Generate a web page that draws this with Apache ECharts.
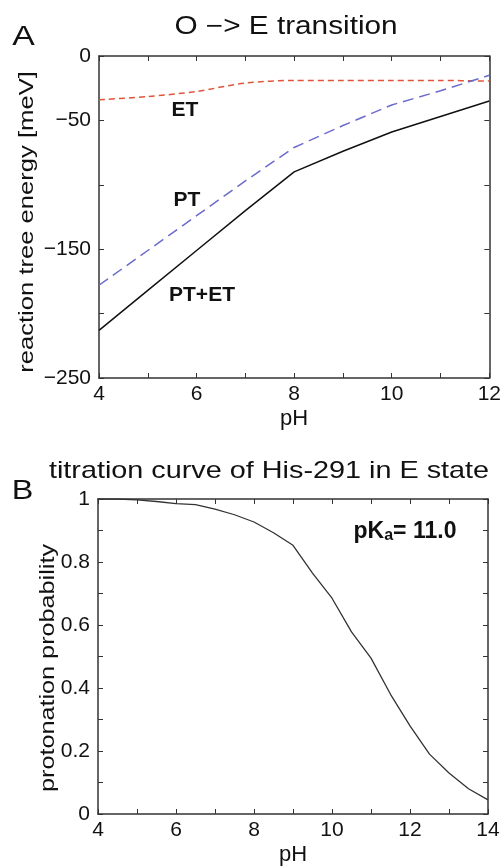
<!DOCTYPE html>
<html>
<head>
<meta charset="utf-8">
<script src="https://cdn.jsdelivr.net/npm/echarts@6/dist/echarts.min.js"></script>
<style>
html,body{margin:0;padding:0;background:#fff;}
#c{width:504px;height:867px;}
</style>
</head>
<body>
<div id="c"></div>
<script>
// Panel A data
const phA = [4, 5, 6, 7, 8, 9, 10, 11, 12];
const etA = [-34, -31.5, -27.5, -21, -19, -19, -19, -19, -19.5];
const ptA = [-178, -151, -124, -97, -71, -54, -38, -27, -15];
const ptetA = [-213, -182, -151, -120, -90, -74, -59, -47, -35];
// Panel B data
const phB = [4, 4.5, 5, 5.5, 6, 6.5, 7, 7.5, 8, 8.5, 9, 9.5, 10, 10.5, 11, 11.5, 12, 12.5, 13, 13.5, 14];
const probB = [1.0, 1.0, 0.997, 0.992, 0.985, 0.982, 0.968, 0.95, 0.927, 0.893, 0.853, 0.765, 0.685, 0.578, 0.495, 0.38, 0.28, 0.19, 0.13, 0.08, 0.045];
// Labels
const titleA = 'O \u2212> E transition';
const titleB = 'titration curve of His-291 in E state';
const yNameA = 'reaction tree energy [meV]';
const yNameB = 'protonation probability';
const xName = 'pH';
const seriesLabels = ['ET', 'PT', 'PT+ET'];
const panelLetters = ['A', 'B'];

const FONT = '"Liberation Sans", Arial, Helvetica, sans-serif';
const AX = '#333';
const TXT = '#111';

const zip = (xs, ys) => xs.map((x, i) => [x, ys[i]]);
const fmtNum = v => v < 0 ? '\u2212' + Math.abs(v) : String(v);

function boxAxis(gridIndex, pos, opts, showLabels) {
  return Object.assign({
    type: 'value', gridIndex, position: pos,
    axisLine: {show: true, onZero: false, lineStyle: {color: AX, width: 1.5}},
    axisTick: {show: true, inside: true, length: 5, lineStyle: {color: AX, width: 1}},
    splitLine: {show: false},
    axisLabel: {show: showLabels, color: TXT, fontSize: 21, fontFamily: FONT}
  }, opts);
}
function txt(text, x, y, size, opts) {
  return Object.assign({
    type: 'text', x, y,
    style: {text, font: size + 'px ' + FONT, fill: TXT, align: 'center', verticalAlign: 'middle'}
  }, opts || {});
}

const chart = echarts.init(document.getElementById('c'), null, {renderer: 'canvas'});
chart.setOption({
  animation: false,
  backgroundColor: '#fff',
  grid: [
    {left: 99, right: 14, top: 56, height: 322},
    {left: 98, right: 16, top: 499, height: 324}
  ],
  xAxis: [
    boxAxis(0, 'bottom', {min: 4, max: 12, interval: 1, name: xName, nameLocation: 'middle', nameGap: 30,
      nameTextStyle: {fontFamily: FONT, fontSize: 22, color: TXT},
      axisLabel: {show: true, color: TXT, fontSize: 21, fontFamily: FONT, margin: 6,
        formatter: v => (v % 2 === 0 ? String(v) : '')}}, true),
    boxAxis(0, 'top', {min: 4, max: 12, interval: 1}, false),
    boxAxis(1, 'bottom', {min: 4, max: 14, interval: 1, name: xName, nameLocation: 'middle', nameGap: 30,
      nameTextStyle: {fontFamily: FONT, fontSize: 22, color: TXT},
      axisLabel: {show: true, color: TXT, fontSize: 21, fontFamily: FONT, margin: 6,
        formatter: v => (v % 2 === 0 ? String(v) : '')}}, true),
    boxAxis(1, 'top', {min: 4, max: 14, interval: 1}, false)
  ],
  yAxis: [
    boxAxis(0, 'left', {min: -250, max: 0, interval: 50,
      axisLabel: {show: true, color: TXT, fontSize: 21, fontFamily: FONT, margin: 8,
        formatter: v => (v === -100 || v === -200 ? '' : fmtNum(v))}}, true),
    boxAxis(0, 'right', {min: -250, max: 0, interval: 50}, false),
    boxAxis(1, 'left', {min: 0, max: 1, interval: 0.1,
      axisLabel: {show: true, color: TXT, fontSize: 21, fontFamily: FONT, margin: 8,
        formatter: v => (Math.round(v * 10) % 2 === 0 ? String(Math.round(v * 10) / 10) : '')}}, true),
    boxAxis(1, 'right', {min: 0, max: 1, interval: 0.1}, false)
  ],
  series: [
    {type: 'line', xAxisIndex: 0, yAxisIndex: 0, data: zip(phA, etA), symbol: 'none', smooth: 0.3,
     lineStyle: {color: '#e0553a', width: 1.5, type: [6, 4]}},
    {type: 'line', xAxisIndex: 0, yAxisIndex: 0, data: zip(phA, ptA), symbol: 'none',
     lineStyle: {color: '#6b6bcc', width: 1.5, type: [11, 6]}},
    {type: 'line', xAxisIndex: 0, yAxisIndex: 0, data: zip(phA, ptetA), symbol: 'none',
     lineStyle: {color: '#111', width: 1.5}},
    {type: 'line', xAxisIndex: 2, yAxisIndex: 2, data: zip(phB, probB), symbol: 'none',
     lineStyle: {color: '#333', width: 1.3}}
  ],
  graphic: [
    txt(titleA, 286, 27, 25, {scaleX: 1.19}),
    txt(titleB, 269, 471, 24, {scaleX: 1.2}),
    txt(panelLetters[0], 23.5, 38, 27, {scaleX: 1.25}),
    txt(panelLetters[1], 22.5, 492, 27, {scaleX: 1.2}),
    txt(yNameA, 27, 222, 20, {rotation: Math.PI / 2, scaleX: 1.28}),
    txt(yNameB, 48, 668, 20, {rotation: Math.PI / 2, scaleX: 1.26}),
    {type: 'text', x: 185, y: 110, style: {text: seriesLabels[0], font: 'bold 21px ' + FONT, fill: TXT, align: 'center', verticalAlign: 'middle'}},
    {type: 'text', x: 187, y: 200, style: {text: seriesLabels[1], font: 'bold 21px ' + FONT, fill: TXT, align: 'center', verticalAlign: 'middle'}},
    {type: 'text', x: 202, y: 295, style: {text: seriesLabels[2], font: 'bold 21px ' + FONT, fill: TXT, align: 'center', verticalAlign: 'middle'}},
    {type: 'text', x: 405, y: 532, style: {
      text: '{m|pK}{s|a}{m|= 11.0}', align: 'center', verticalAlign: 'middle',
      rich: {
        m: {font: 'bold 23px ' + FONT, fill: TXT, verticalAlign: 'bottom'},
        s: {font: 'bold 16px ' + FONT, fill: TXT, verticalAlign: 'bottom'}
      }}}
  ]
});
</script>
</body>
</html>
